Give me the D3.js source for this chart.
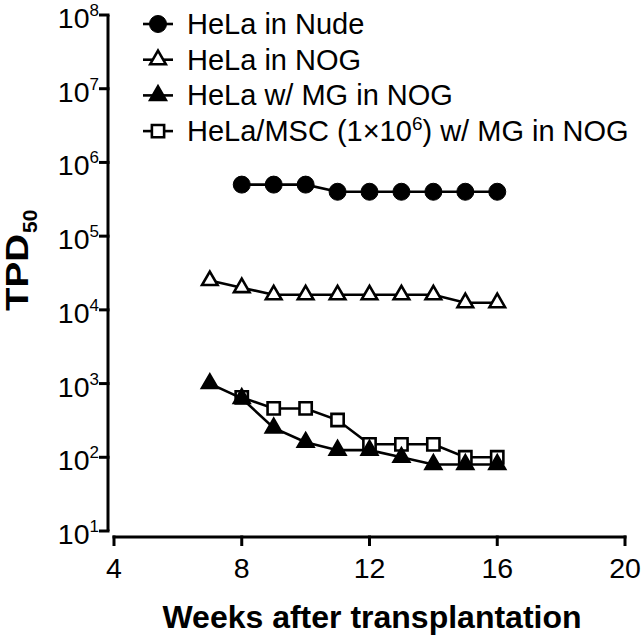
<!DOCTYPE html>
<html>
<head>
<meta charset="utf-8">
<script src="https://cdn.jsdelivr.net/npm/d3@7"></script>
<style>
  html, body { margin: 0; padding: 0; background: #fff; }
  svg { display: block; font-family: "Liberation Sans", Arial, Helvetica, sans-serif; }
</style>
</head>
<body>
<div id="chart"></div>
<script>
// data
const weeksNude = [8, 9, 10, 11, 12, 13, 14, 15, 16];
const tpdNude = [5e5, 5e5, 5e5, 4e5, 4e5, 4e5, 4e5, 4e5, 4e5];
const weeksNOG = [7, 8, 9, 10, 11, 12, 13, 14, 15, 16];
const tpdNOG = [25000, 20000, 16000, 16000, 16000, 16000, 16000, 16000, 12500, 12500];
const weeksMG = [7, 8, 9, 10, 11, 12, 13, 14, 15, 16];
const tpdMG = [1000, 630, 250, 160, 125, 125, 100, 80, 80, 80];
const weeksMSC = [8, 9, 10, 11, 12, 13, 14, 15, 16];
const tpdMSC = [650, 460, 460, 320, 150, 150, 150, 100, 100];

const xTicks = [4, 8, 12, 16, 20];
const yExponents = [1, 2, 3, 4, 5, 6, 7, 8];
const legendLabels = ["HeLa in Nude", "HeLa in NOG", "HeLa w/ MG in NOG", "HeLa/MSC (1×10|6|) w/ MG in NOG"];

const width = 644, height = 639;
const svg = d3.select("#chart").append("svg").attr("width", width).attr("height", height);

const x = d3.scaleLinear().domain([4, 20]).range([114, 625]);
const y = d3.scaleLog().domain([10, 1e8]).range([531, 15]);
const axisX = 108; // y axis line sits a bit left of x=4 (prism style)
const axisY = 537;

// y axis
const yAxis = svg.append("g").attr("transform", `translate(${axisX},0)`);
yAxis.append("line").attr("y1", y(10)).attr("y2", y(1e8))
  .attr("stroke", "#000").attr("stroke-width", 3);
yExponents.forEach((e) => {
  const yy = y(Math.pow(10, e));
  yAxis.append("line").attr("x1", -9).attr("x2", 1.5).attr("y1", yy).attr("y2", yy)
    .attr("stroke", "#000").attr("stroke-width", 3);
  const t = yAxis.append("text").attr("x", -9).attr("y", yy + 13)
    .attr("text-anchor", "end").attr("font-size", 28.5).attr("fill", "#000");
  t.append("tspan").text("10");
  t.append("tspan").attr("dy", -12).attr("font-size", 17).text(e);
});

// x axis
const xAxis = svg.append("g").attr("transform", `translate(0,${axisY})`);
xAxis.append("line").attr("x1", x(4) - 1.5).attr("x2", x(20) + 1.5)
  .attr("stroke", "#000").attr("stroke-width", 3);
xTicks.forEach((v) => {
  xAxis.append("line").attr("x1", x(v)).attr("x2", x(v)).attr("y1", -1.5).attr("y2", 9)
    .attr("stroke", "#000").attr("stroke-width", 3);
  xAxis.append("text").attr("x", x(v)).attr("y", 41).attr("text-anchor", "middle")
    .attr("font-size", 28.5).attr("fill", "#000").text(v);
});

// axis titles
svg.append("text").attr("x", 372).attr("y", 628).attr("text-anchor", "middle")
  .attr("font-size", 32).attr("font-weight", "bold").text("Weeks after transplantation");

const yTitle = svg.append("g").attr("transform", "translate(28,311) rotate(-90)");
yTitle.append("text").attr("x", 0).attr("y", 0).attr("font-size", 31).attr("font-weight", "bold")
  .attr("textLength", 77).attr("lengthAdjust", "spacingAndGlyphs").text("TPD");
yTitle.append("text").attr("x", 78).attr("y", 9).attr("font-size", 21).attr("font-weight", "bold")
  .text("50");

// series
const series = [
  { weeks: weeksNude, values: tpdNude, shape: "circle", fill: "#000" },
  { weeks: weeksNOG, values: tpdNOG, shape: "triangle", fill: "#fff" },
  { weeks: weeksMSC, values: tpdMSC, shape: "square", fill: "#fff" },
  { weeks: weeksMG, values: tpdMG, shape: "triangle", fill: "#000" },
];

const line = d3.line().x((d) => x(d[0])).y((d) => y(d[1]));

const drawMarker = (g, shape, fill, cx, cy) => {
  if (shape === "circle") {
    g.append("circle").attr("cx", cx).attr("cy", cy).attr("r", 8.5)
      .attr("fill", fill).attr("stroke", "#000").attr("stroke-width", 1);
  } else if (shape === "triangle") {
    g.append("path").attr("d", d3.symbol(d3.symbolTriangle, 105)())
      .attr("transform", `translate(${cx},${cy})`)
      .attr("fill", fill).attr("stroke", "#000").attr("stroke-width", 2.6)
      .attr("stroke-linejoin", "miter");
  } else {
    g.append("path").attr("d", d3.symbol(d3.symbolSquare, 150)())
      .attr("transform", `translate(${cx},${cy})`)
      .attr("fill", fill).attr("stroke", "#000").attr("stroke-width", 2.6);
  }
};

series.forEach((s) => {
  const pts = s.weeks.map((w, i) => [w, s.values[i]]);
  const g = svg.append("g");
  g.append("path").attr("d", line(pts)).attr("fill", "none")
    .attr("stroke", "#000").attr("stroke-width", 2.6);
  pts.forEach((p) => drawMarker(g, s.shape, s.fill, x(p[0]), y(p[1])));
});

// legend
const legendOrder = [series[0], series[1], series[3], series[2]];
legendLabels.forEach((label, i) => {
  const cy = 24 + i * 35.7;
  const g = svg.append("g");
  g.append("line").attr("x1", 143).attr("x2", 173).attr("y1", cy).attr("y2", cy)
    .attr("stroke", "#000").attr("stroke-width", 2.6);
  drawMarker(g, legendOrder[i].shape, legendOrder[i].fill, 158, cy);
  const t = g.append("text").attr("x", 187).attr("y", cy + 10)
    .attr("font-size", 29).attr("fill", "#000");
  const parts = label.split("|");
  if (parts.length === 1) {
    t.text(label);
  } else {
    t.append("tspan").text(parts[0]);
    t.append("tspan").attr("dy", -11).attr("font-size", 19).text(parts[1]);
    t.append("tspan").attr("dy", 11).text(parts[2]);
  }
});
</script>
</body>
</html>
